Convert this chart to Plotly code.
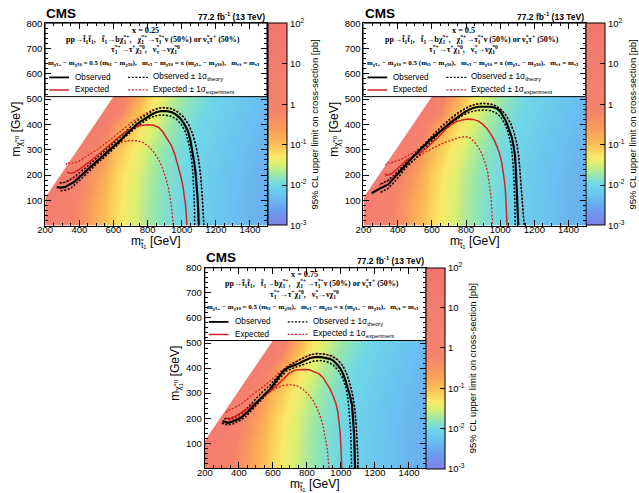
import math
import plotly.graph_objects as go

W, H = 639, 493
FONT = "Liberation Sans"
SERIF = "Liberation Serif"

# ---------------- data ----------------
MSTOP_GRID = [200, 300, 400, 500, 600, 700, 800, 900, 1000, 1100, 1200, 1300, 1400, 1500]
MCHI_GRID = [0, 100, 200, 300, 400, 500]
# log10 of the 95% CL upper limit [pb], one row per neutralino mass
LIMIT_LOG10 = [
    [0.8, 0.2, -0.4, -0.85, -1.2, -1.45, -1.7, -1.9, -2.0, -2.1, -2.2, -2.3, -2.4, -2.45],
    [1.0, 0.3, -0.3, -0.8, -1.15, -1.42, -1.68, -1.88, -2.0, -2.1, -2.2, -2.3, -2.4, -2.45],
    [1.5, 1.0, -0.1, -0.6, -1.1, -1.38, -1.65, -1.85, -1.98, -2.08, -2.18, -2.28, -2.38, -2.45],
    [1.5, 1.5, 0.5, -0.3, -0.95, -1.25, -1.55, -1.8, -1.95, -2.05, -2.15, -2.25, -2.35, -2.42],
    [1.5, 1.5, 1.5, 0.8, -0.4, -1.0, -1.4, -1.65, -1.88, -2.0, -2.1, -2.2, -2.3, -2.4],
    [1.5, 1.5, 1.5, 1.5, 0.8, -0.5, -1.15, -1.5, -1.75, -1.92, -2.05, -2.15, -2.25, -2.35],
]
DIAG_OFFSET = 90  # kinematic edge: m_chi0 = m_stop - 90

CB_TICKVALS = [-3, -2, -1, 0, 1, 2]
CB_TICKTEXT = ["10<sup>-3</sup>", "10<sup>-2</sup>", "10<sup>-1</sup>", "1", "10", "10<sup>2</sup>"]

# contours (m_stop, m_chi0) ; x = 0.25
OBS_025 = [(268,152),(290,150),(315,152),(340,160),(368,172),(390,185),(406,194),(430,208),(450,222),(470,234),(490,246),(515,262),(540,275),(560,286),(580,298),(600,310),(620,322),(645,340),(670,358),(700,378),(730,396),(760,412),(790,426),(820,438),(850,448),(880,453),(910,453),(940,449),(965,440),(990,425),(1015,402),(1035,375),(1050,340),(1062,300),(1072,255),(1081,210),(1088,160),(1093,110),(1097,60),(1100,0)]
OBS_UP_025 = [(285,168),(320,172),(360,188),(400,208),(440,230),(480,255),(520,280),(560,302),(600,325),(640,352),(680,380),(720,404),(760,425),(800,442),(840,458),(870,465),(900,466),(940,462),(975,450),(1010,430),(1040,400),(1065,360),(1085,310),(1100,255),(1112,190),(1120,120),(1126,60),(1130,0)]
OBS_DN_025 = [(290,138),(320,140),(350,148),(385,168),(420,190),(460,216),(500,244),(540,266),(580,290),(620,316),(660,346),(700,370),(740,392),(780,412),(820,428),(860,436),(900,437),(940,432),(970,420),(1000,398),(1025,365),(1043,320),(1057,265),(1066,205),(1072,140),(1075,70),(1076,0)]
EXP_025 = [(328,213),(340,207),(355,207),(375,212),(400,222),(430,236),(465,255),(500,275),(530,292),(565,313),(600,333),(640,355),(680,374),(720,388),(760,396),(800,399),(835,397),(865,388),(890,370),(915,345),(940,315),(960,280),(978,240),(993,200),(1006,160),(1016,120),(1023,80),(1027,40),(1030,0)]
EXP_UP_025 = [(322,240),(330,250),(345,246),(370,248),(400,256),(440,272),(480,290),(520,308),(560,328),(600,350),(640,372),(680,395),(720,415),(760,432),(800,448),(840,460),(870,466),(900,467),(940,463),(975,451),(1010,431),(1040,401),(1065,361),(1085,311),(1100,256),(1112,191),(1120,121),(1126,61),(1130,0)]
EXP_DN_025 = [(300,168),(330,174),(370,186),(410,204),(450,228),(490,252),(530,276),(570,300),(610,318),(650,330),(690,336),(730,336),(770,330),(805,314),(835,292),(860,266),(885,232),(905,192),(922,148),(935,100),(944,50),(950,0)]

# x = 0.5
OBS_050 = [(248,128),(270,138),(296,147),(320,155),(345,163),(360,174),(373,184),(392,198),(412,212),(430,228),(450,244),(470,258),(489,271),(515,288),(537,303),(560,320),(585,336),(615,353),(643,370),(670,385),(701,402),(730,418),(759,434),(790,448),(817,458),(845,466),(875,470),(905,471),(935,470),(960,468),(980,463),(1000,452),(1015,437),(1030,418),(1042,398),(1055,375),(1067,350),(1078,315),(1086,280),(1090,240),(1093,195),(1095,140),(1098,90),(1102,45),(1106,0)]
OBS_UP_050 = [(300,165),(340,178),(380,200),(420,228),(460,258),(500,285),(540,312),(580,340),(620,368),(660,395),(700,418),(740,440),(780,458),(820,472),(860,480),(900,483),(940,481),(975,473),(1005,458),(1035,435),(1060,405),(1080,370),(1097,325),(1108,275),(1115,220),(1122,160),(1128,100),(1134,50),(1140,0)]
OBS_DN_050 = [(300,132),(340,145),(380,172),(420,205),(460,238),(500,262),(540,290),(580,320),(620,350),(660,378),(700,398),(740,418),(780,436),(820,448),(860,455),(900,457),(940,455),(970,448),(1000,432),(1025,405),(1045,370),(1062,325),(1072,270),(1078,210),(1083,150),(1086,80),(1088,0)]
EXP_050 = [(325,206),(332,200),(345,200),(365,206),(393,222),(420,240),(450,258),(480,270),(508,280),(540,292),(566,305),(595,322),(624,342),(655,362),(682,382),(710,398),(740,410),(778,418),(810,421),(840,420),(870,414),(895,402),(922,384),(945,362),(965,338),(983,310),(998,280),(1010,245),(1020,205),(1027,165),(1032,120),(1036,70),(1038,30),(1040,0)]
EXP_UP_050 = [(330,238),(340,250),(360,248),(390,255),(420,262),(460,276),(500,292),(540,312),(580,335),(620,362),(660,388),(700,412),(740,435),(780,455),(820,472),(860,481),(900,484),(940,482),(975,474),(1005,459),(1035,436),(1060,406),(1080,371),(1097,326),(1108,276),(1115,221),(1122,161),(1128,101),(1134,51),(1140,0)]
EXP_DN_050 = [(290,160),(320,168),(360,182),(400,202),(440,225),(480,250),(520,272),(560,290),(600,305),(640,318),(680,330),(720,340),(760,348),(795,352),(825,346),(850,330),(875,306),(895,280),(912,248),(927,210),(938,165),(946,115),(951,60),(955,0)]

# x = 0.75
OBS_075 = [(305,189),(320,184),(334,182),(352,184),(372,189),(392,195),(411,202),(430,212),(450,224),(470,238),(488,250),(508,264),(527,277),(547,290),(566,303),(585,318),(604,335),(624,355),(643,373),(665,390),(691,402),(715,408),(740,414),(760,420),(778,427),(800,434),(817,439),(840,443),(860,445),(885,444),(914,441),(935,437),(953,431),(970,420),(982,411),(998,396),(1011,380),(1026,352),(1040,322),(1053,290),(1065,255),(1070,220),(1073,190),(1076,150),(1079,110),(1081,60),(1083,0)]
OBS_UP_075 = [(315,198),(345,200),(380,206),(420,222),(460,248),(500,278),(540,306),(580,330),(620,360),(660,390),(700,412),(740,427),(780,441),(820,453),(860,458),(900,456),(940,450),(975,437),(1005,415),(1030,385),(1052,340),(1070,290),(1082,235),(1090,175),(1095,115),(1098,60),(1100,0)]
OBS_DN_075 = [(300,180),(330,174),(360,176),(400,188),(440,206),(480,235),(520,262),(560,290),(600,322),(640,360),(680,388),(720,400),(760,410),(800,420),(840,428),(880,430),(920,425),(955,412),(985,390),(1010,360),(1030,320),(1043,270),(1052,210),(1057,150),(1060,90),(1062,40),(1063,0)]
EXP_075 = [(325,203),(333,197),(345,196),(368,202),(395,214),(426,226),(455,240),(484,255),(513,271),(542,288),(580,308),(620,328),(660,355),(697,380),(730,391),(770,394),(814,393),(845,386),(872,377),(895,362),(915,342),(935,318),(955,288),(970,260),(982,225),(990,185),(995,145),(999,100),(1002,50),(1005,0)]
EXP_UP_075 = [(325,222),(335,232),(355,236),(380,244),(410,255),(450,276),(490,300),(523,315),(560,335),(600,358),(640,384),(680,405),(720,422),(760,435),(800,446),(840,456),(880,458),(920,454),(955,444),(990,426),(1020,398),(1045,355),(1065,300),(1080,240),(1090,175),(1096,110),(1100,50),(1103,0)]
EXP_DN_075 = [(300,182),(335,186),(375,196),(420,214),(460,236),(500,260),(540,284),(580,304),(620,320),(660,330),(700,334),(740,330),(775,316),(805,298),(835,272),(858,242),(878,208),(895,170),(908,128),(918,85),(925,40),(930,0)]

X_LABELS = ["0.25", "0.5", "0.75"]

# ---------------- style / layout ----------------
CSCALE = [
    [0.00, "#8080e6"], [0.08, "#6aa0f0"], [0.14, "#6ac0f0"], [0.20, "#6ed8e8"],
    [0.25, "#9ce8a8"], [0.30, "#dcf070"], [0.34, "#fae868"], [0.40, "#fbbd54"],
    [0.48, "#f99a5c"], [0.56, "#f6846c"], [1.00, "#f27570"],
]
RED = "#d42222"

PANELS = [
    dict(left=37.7, right=262.3, top=17.5, bottom=222.3,
         curves=(OBS_025, OBS_UP_025, OBS_DN_025, EXP_025, EXP_UP_025, EXP_DN_025)),
    dict(left=360.0, right=585.0, top=17.5, bottom=222.3,
         curves=(OBS_050, OBS_UP_050, OBS_DN_050, EXP_050, EXP_UP_050, EXP_DN_050)),
    dict(left=199.3, right=423.3, top=265.0, bottom=468.1,
         curves=(OBS_075, OBS_UP_075, OBS_DN_075, EXP_075, EXP_UP_075, EXP_DN_075)),
]

BOX_BOTTOM = 510  # GeV, lower edge of legend box


def px(x):
    return x / W


def py(y):
    return 1 - y / H


fig = go.Figure()
layout = dict(width=W, height=H, margin=dict(l=0, r=0, t=0, b=0),
              paper_bgcolor="white", plot_bgcolor="white", showlegend=False,
              font=dict(family=FONT, color="black"))
annotations = []
shapes = []

for i, p in enumerate(PANELS):
    n = i + 1
    sx = "" if n == 1 else str(n)
    xa, ya = "x" + sx, "y" + sx
    ca = "coloraxis" + sx
    L, R, T, B = p["left"], p["right"], p["top"], p["bottom"]

    fig.add_trace(go.Heatmap(x=MSTOP_GRID, y=MCHI_GRID, z=LIMIT_LOG10, zsmooth="best",
                             coloraxis=ca, xaxis=xa, yaxis=ya, hoverinfo="skip"))
    # white region beyond the kinematic edge
    fig.add_trace(go.Scatter(
        x=[150, BOX_BOTTOM + DIAG_OFFSET + 20, 150],
        y=[150 - DIAG_OFFSET, BOX_BOTTOM + 20, BOX_BOTTOM + 20],
        fill="toself", fillcolor="white", mode="lines", line=dict(width=0),
        xaxis=xa, yaxis=ya, hoverinfo="skip"))
    # legend box
    fig.add_trace(go.Scatter(x=[200, 1500, 1500, 200, 200],
                             y=[BOX_BOTTOM, BOX_BOTTOM, 800, 800, BOX_BOTTOM],
                             fill="toself", fillcolor="white", mode="lines",
                             line=dict(color="black", width=1), xaxis=xa, yaxis=ya,
                             hoverinfo="skip"))
    obs, obs_up, obs_dn, exp_, exp_up, exp_dn = p["curves"]
    styles = [
        (exp_dn, dict(color=RED, width=1.3, dash="2px,1.6px")),
        (exp_up, dict(color=RED, width=1.3, dash="2px,1.6px")),
        (obs_up, dict(color="black", width=1.5, dash="2px,1.6px")),
        (obs_dn, dict(color="black", width=1.5, dash="2px,1.6px")),
        (exp_, dict(color=RED, width=1.5)),
        (obs, dict(color="black", width=2.2)),
    ]
    for pts, st in styles:
        fig.add_trace(go.Scatter(x=[a for a, b in pts], y=[b for a, b in pts], mode="lines",
                                 line=st, xaxis=xa, yaxis=ya, hoverinfo="skip"))

    axis_common = dict(showline=True, linecolor="black", linewidth=1, mirror="ticks",
                       ticks="inside", ticklen=6, tickcolor="black", showgrid=False,
                       zeroline=False, tickfont=dict(family=FONT, size=9.5, color="black"))
    layout["xaxis" + sx] = dict(axis_common, domain=[px(L), px(R)], anchor=ya, range=[200, 1500],
                                tickmode="linear", tick0=0, dtick=200, ticklabelstandoff=-5,
                                minor=dict(ticks="inside", ticklen=3, tickmode="linear",
                                           tick0=0, dtick=50, tickcolor="black"))
    layout["yaxis" + sx] = dict(axis_common, domain=[py(B), py(T)], anchor=xa, range=[0, 800],
                                tickmode="array", tickvals=[100, 200, 300, 400, 500, 600, 700, 800],
                                minor=dict(ticks="inside", ticklen=3, tickmode="linear",
                                           tick0=0, dtick=20, tickcolor="black"))
    cb_left = R + 0.5
    cb_th = 19
    layout[ca] = dict(colorscale=CSCALE, cmin=-3, cmax=2,
                      colorbar=dict(x=px(cb_left), xanchor="left", xpad=0, ypad=0,
                                    y=py((T + B) / 2), yanchor="middle", lenmode="fraction",
                                    len=(B - T) / H, thickness=cb_th, thicknessmode="pixels",
                                    outlinewidth=1, outlinecolor="black", ticks="inside",
                                    ticklen=5, tickcolor="black", tickmode="array",
                                    tickvals=CB_TICKVALS, ticktext=CB_TICKTEXT,
                                    tickfont=dict(family=FONT, size=9.5, color="black"),
                                    title=dict(text="95% CL upper limit on cross-section [pb]",
                                               side="right",
                                               font=dict(family=FONT, size=9.5, color="black"))))
    # minor log ticks on the colour bar
    cb_r = cb_left + cb_th
    for dec in range(-3, 2):
        for k in range(2, 10):
            v = dec + math.log10(k)
            yy = B - (v + 3) / 5 * (B - T)
            shapes.append(dict(type="line", xref="paper", yref="paper",
                               x0=px(cb_r - 2.5), x1=px(cb_r), y0=py(yy), y1=py(yy),
                               line=dict(color="black", width=0.8)))

    cx = (L + R) / 2
    # CMS + lumi
    annotations.append(dict(text="<b>CMS</b>", x=px(L - 1), y=py(T - 0.5), xanchor="left",
                            yanchor="bottom", font=dict(family=FONT, size=13.5)))
    annotations.append(dict(text="<b>77.2 fb<sup>-1</sup> (13 TeV)</b>", x=px(R), y=py(T + 0.5),
                            xanchor="right", yanchor="bottom", font=dict(family=FONT, size=8.5)))
    # header lines
    nb = "\u00a0\u00a0\u00a0"
    hdr = [
        ("<b>x = %s</b>" % X_LABELS[i], 8.2, 7.0, -11),
        ("<b>pp→t̃<sub>1</sub>t̃<sub>1</sub>," + nb + "t̃<sub>1</sub>→bχ̃<sub>1</sub><sup>+</sup>," + nb +
         "χ̃<sub>1</sub><sup>+</sup>→τ̃<sub>1</sub><sup>+</sup>ν (50%) or ν̃<sub>τ</sub>τ<sup>+</sup> (50%)</b>", 8.0, 16.2, -3),
        ("<b>τ̃<sub>1</sub><sup>+</sup>→τ<sup>+</sup>χ̃<sub>1</sub><sup>0</sup>," + nb +
         "ν̃<sub>τ</sub>→νχ̃<sub>1</sub><sup>0</sup></b>", 8.0, 26.8, -11),
        ("<b>m<sub>χ̃1+</sub> − m<sub>χ̃10</sub> = 0.5 (m<sub>t̃1</sub> − m<sub>χ̃10</sub>)," + nb +
         "m<sub>τ̃1</sub> − m<sub>χ̃10</sub> = x (m<sub>χ̃1+</sub> − m<sub>χ̃10</sub>)," + nb +
         "m<sub>ν̃τ</sub> = m<sub>τ̃1</sub></b>", 7.0, 40.2, -2),
    ]
    for txt, fs, dy, dx in hdr:
        annotations.append(dict(text=txt, x=px(cx + dx), y=py(T + dy), xanchor="center",
                                yanchor="middle", font=dict(family=SERIF, size=fs)))
    # legend entries
    for row, (lab1, lab2, col) in enumerate([
            ("Observed", "Observed ± 1σ<sub>theory</sub>", "black"),
            ("Expected", "Expected ± 1σ<sub>experiment</sub>", RED)]):
        yy = T + 54.8 + row * 12.7
        shapes.append(dict(type="line", xref="paper", yref="paper", x0=px(L + 4), x1=px(L + 24),
                           y0=py(yy), y1=py(yy), line=dict(color=col, width=1.8 if row == 0 else 1.5)))
        shapes.append(dict(type="line", xref="paper", yref="paper", x0=px(L + 84), x1=px(L + 104),
                           y0=py(yy), y1=py(yy), line=dict(color=col, width=1.3, dash="2px,1.6px")))
        annotations.append(dict(text=lab1, x=px(L + 28.3), y=py(yy), xanchor="left", yanchor="middle",
                                font=dict(family=FONT, size=8.2)))
        annotations.append(dict(text=lab2, x=px(L + 107.3), y=py(yy), xanchor="left", yanchor="middle",
                                font=dict(family=FONT, size=8.2)))
    # axis titles
    annotations.append(dict(text="m<sub>t̃<sub>1</sub></sub> [GeV]", x=px(cx), y=py(B + 17),
                            xanchor="center", yanchor="middle", font=dict(family=FONT, size=12)))
    annotations.append(dict(text="m<sub>χ̃<sub>1</sub><sup>0</sup></sub> [GeV]", x=px(L - 29),
                            y=py(T + 107), xanchor="center", yanchor="middle", textangle=-90,
                            font=dict(family=FONT, size=12)))

for a in annotations:
    a.update(xref="paper", yref="paper", showarrow=False)
layout["annotations"] = annotations
layout["shapes"] = shapes
fig.update_layout(**layout)
fig.write_html("out.html")
